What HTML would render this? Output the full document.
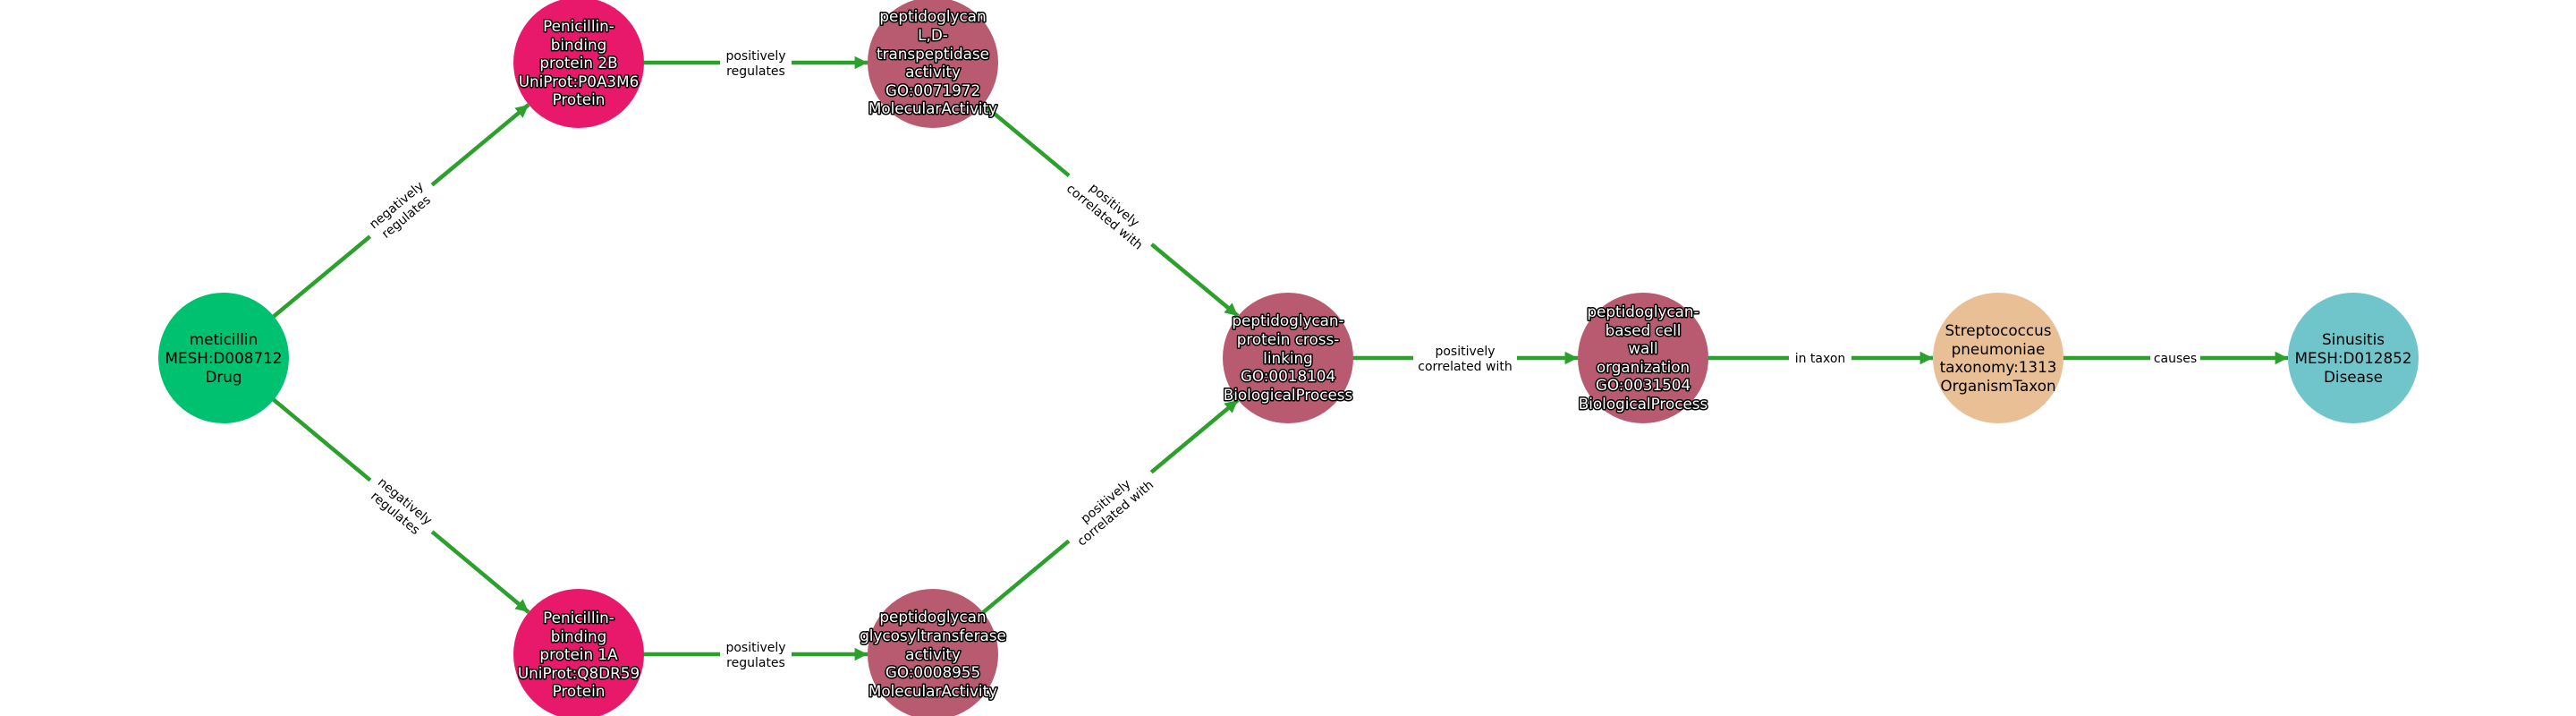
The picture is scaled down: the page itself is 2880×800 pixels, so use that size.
<!DOCTYPE html>
<html><head><meta charset="utf-8"><style>
html,body{margin:0;padding:0;background:#fff;}
svg{display:block;}
.n{font-family:"DejaVu Sans","Liberation Sans",sans-serif;font-size:16.8px;text-anchor:middle;}
.w{fill:#fff;stroke:#000;stroke-width:3px;paint-order:stroke;stroke-linejoin:round;}
.b{fill:#000;}
.e{font-family:"DejaVu Sans","Liberation Sans",sans-serif;font-size:14px;text-anchor:middle;fill:#000;}
line{stroke:#2ca02c;stroke-width:4.5;}
</style></head><body>
<svg width="2880" height="800" viewBox="0 0 2880 800" xmlns="http://www.w3.org/2000/svg">
<defs><marker id="a" viewBox="0 0 10 10" refX="10" refY="5" markerWidth="3.2" markerHeight="3.2" orient="auto" markerUnits="strokeWidth"><path d="M0,0 L10,5 L0,10 z" fill="#2ca02c"/></marker></defs>
<line x1="250" y1="400" x2="591" y2="117" marker-end="url(#a)"/>
<line x1="250" y1="400" x2="591" y2="684" marker-end="url(#a)"/>
<line x1="647" y1="70" x2="970" y2="70" marker-end="url(#a)"/>
<line x1="647" y1="731" x2="970" y2="731" marker-end="url(#a)"/>
<line x1="1043" y1="70" x2="1384" y2="353" marker-end="url(#a)"/>
<line x1="1043" y1="731" x2="1384" y2="447" marker-end="url(#a)"/>
<line x1="1440" y1="400" x2="1764" y2="400" marker-end="url(#a)"/>
<line x1="1837" y1="400" x2="2161" y2="400" marker-end="url(#a)"/>
<line x1="2234" y1="400" x2="2558" y2="400" marker-end="url(#a)"/>

<g transform="translate(448,235) rotate(-39.7)"><rect x="-45" y="-20" width="90" height="40" fill="#fff"/><text class="e" y="-3">negatively</text><text class="e" y="14">regulates</text></g>
<g transform="translate(448,566) rotate(39.7)"><rect x="-45" y="-20" width="90" height="40" fill="#fff"/><text class="e" y="-3">negatively</text><text class="e" y="14">regulates</text></g>
<g transform="translate(1241,235) rotate(39.7)"><rect x="-60" y="-20" width="120" height="40" fill="#fff"/><text class="e" y="-3">positively</text><text class="e" y="14">correlated with</text></g>
<g transform="translate(1241,566) rotate(-39.7)"><rect x="-60" y="-20" width="120" height="40" fill="#fff"/><text class="e" y="-3">positively</text><text class="e" y="14">correlated with</text></g>
<g transform="translate(845,70)"><rect x="-40" y="-20" width="80" height="40" fill="#fff"/><text class="e" y="-3">positively</text><text class="e" y="14">regulates</text></g>
<g transform="translate(845,731)"><rect x="-40" y="-20" width="80" height="40" fill="#fff"/><text class="e" y="-3">positively</text><text class="e" y="14">regulates</text></g>
<g transform="translate(1638,400)"><rect x="-58" y="-20" width="116" height="40" fill="#fff"/><text class="e" y="-3">positively</text><text class="e" y="14">correlated with</text></g>
<g transform="translate(2035,400)"><rect x="-35" y="-11" width="70" height="22" fill="#fff"/><text class="e" y="5">in taxon</text></g>
<g transform="translate(2432,400)"><rect x="-28" y="-11" width="56" height="22" fill="#fff"/><text class="e" y="5">causes</text></g>

<circle cx="250" cy="400" r="73" fill="#00c170"/>
<circle cx="647" cy="70" r="73" fill="#e8196a"/>
<circle cx="647" cy="731" r="73" fill="#e8196a"/>
<circle cx="1043" cy="70" r="73" fill="#b85a70"/>
<circle cx="1043" cy="731" r="73" fill="#b85a70"/>
<circle cx="1440" cy="400" r="73" fill="#b85a70"/>
<circle cx="1837" cy="400" r="73" fill="#b85a70"/>
<circle cx="2234" cy="400" r="73" fill="#e9bf95"/>
<circle cx="2631" cy="400" r="73" fill="#70c5ca"/>

<text class="n b" x="250"><tspan x="250" y="385">meticillin</tspan><tspan x="250" y="406">MESH:D008712</tspan><tspan x="250" y="427">Drug</tspan></text>
<text class="n w"><tspan x="647" y="35">Penicillin-</tspan><tspan x="647" y="56">binding</tspan><tspan x="647" y="76">protein 2B</tspan><tspan x="647" y="97">UniProt:P0A3M6</tspan><tspan x="647" y="117">Protein</tspan></text>
<text class="n w"><tspan x="647" y="696">Penicillin-</tspan><tspan x="647" y="717">binding</tspan><tspan x="647" y="737">protein 1A</tspan><tspan x="647" y="758">UniProt:Q8DR59</tspan><tspan x="647" y="778">Protein</tspan></text>
<text class="n w"><tspan x="1043" y="24">peptidoglycan</tspan><tspan x="1043" y="45">L,D-</tspan><tspan x="1043" y="66">transpeptidase</tspan><tspan x="1043" y="86">activity</tspan><tspan x="1043" y="107">GO:0071972</tspan><tspan x="1043" y="127">MolecularActivity</tspan></text>
<text class="n w"><tspan x="1043" y="695">peptidoglycan</tspan><tspan x="1043" y="716">glycosyltransferase</tspan><tspan x="1043" y="737">activity</tspan><tspan x="1043" y="757">GO:0008955</tspan><tspan x="1043" y="778">MolecularActivity</tspan></text>
<text class="n w"><tspan x="1440" y="364">peptidoglycan-</tspan><tspan x="1440" y="385">protein cross-</tspan><tspan x="1440" y="406">linking</tspan><tspan x="1440" y="426">GO:0018104</tspan><tspan x="1440" y="447">BiologicalProcess</tspan></text>
<text class="n w"><tspan x="1837" y="354">peptidoglycan-</tspan><tspan x="1837" y="375">based cell</tspan><tspan x="1837" y="395">wall</tspan><tspan x="1837" y="416">organization</tspan><tspan x="1837" y="436">GO:0031504</tspan><tspan x="1837" y="457">BiologicalProcess</tspan></text>
<text class="n b"><tspan x="2234" y="375">Streptococcus</tspan><tspan x="2234" y="396">pneumoniae</tspan><tspan x="2234" y="416">taxonomy:1313</tspan><tspan x="2234" y="437">OrganismTaxon</tspan></text>
<text class="n b"><tspan x="2631" y="385">Sinusitis</tspan><tspan x="2631" y="406">MESH:D012852</tspan><tspan x="2631" y="427">Disease</tspan></text>
</svg>
</body></html>
